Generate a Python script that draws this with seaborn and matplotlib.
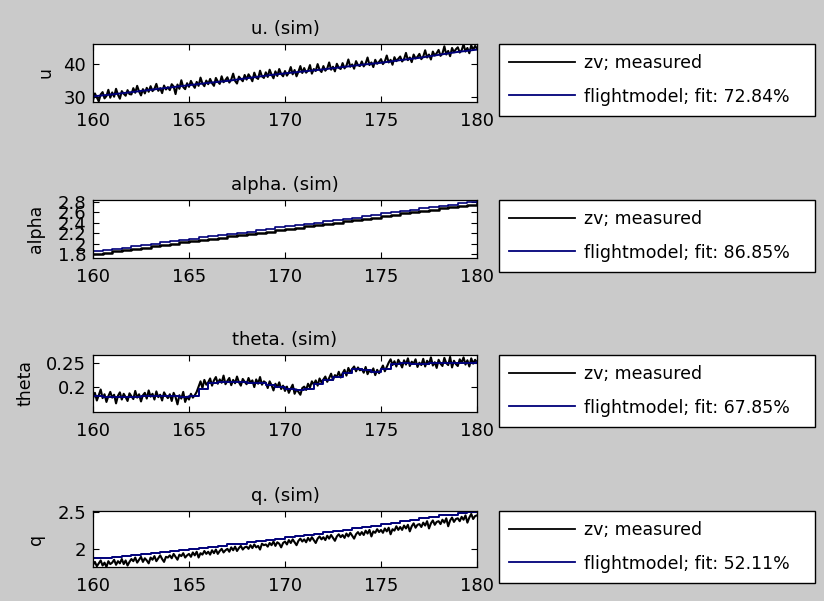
import numpy as np
import pandas as pd
import matplotlib
matplotlib.use("Agg")
import matplotlib.pyplot as plt
import seaborn as sns

# ---------------- data ----------------
t_meas = [round(160 + 0.1 * i, 1) for i in range(201)]
t_step = [160 + 0.5 * i for i in range(41)]
t_model_u = list(range(160, 181))

u_model = [30.3, 30.9, 31.6, 32.3, 33.0, 33.7, 34.4, 35.0, 35.8, 36.6, 37.3,
           37.9, 38.5, 39.2, 39.9, 40.5, 41.3, 42.0, 42.9, 43.8, 44.5]
u_meas = [
    29.1, 31.2, 30.0, 28.8, 30.9, 31.6, 29.7, 30.4, 32.3, 29.9,
    31.5, 30.2, 32.6, 30.8, 29.6, 31.9, 31.1, 30.5, 32.2, 31.0,
    30.9, 32.8, 31.4, 33.5, 31.8, 30.6, 32.5, 31.2, 32.9, 31.7,
    33.4, 31.9, 32.6, 34.1, 32.0, 32.8, 31.3, 33.6, 32.4, 33.1,
    32.2, 34.0, 33.3, 31.0, 33.9, 32.6, 35.2, 33.1, 32.5, 34.3,
    33.2, 35.0, 33.8, 32.9, 34.7, 33.5, 36.0, 34.2, 33.4, 35.1,
    34.0, 35.6, 34.3, 33.5, 35.9, 34.8, 34.1, 36.4, 34.6, 35.3,
    36.1, 34.5, 35.4, 37.2, 35.0, 34.2, 36.3, 35.6, 34.9, 36.8,
    35.4, 37.0, 36.1, 34.9, 37.5, 36.0, 35.6, 38.1, 36.4, 35.9,
    37.6, 36.2, 38.4, 36.9, 35.8, 37.9, 36.5, 38.6, 37.1, 36.4,
    38.0, 36.6, 37.5, 39.2, 37.0, 38.3, 36.4, 37.8, 39.5, 37.4,
    38.9, 37.5, 38.1, 39.8, 37.2, 38.6, 38.0, 40.1, 38.4, 37.7,
    39.5, 38.1, 38.8, 40.6, 38.4, 39.3, 37.9, 40.2, 39.0, 38.6,
    40.4, 38.8, 39.6, 41.5, 39.3, 40.0, 38.7, 41.0, 39.8, 39.5,
    40.9, 39.4, 40.3, 42.1, 39.8, 40.6, 39.2, 41.4, 40.2, 40.8,
    41.6, 40.1, 40.9, 42.7, 40.6, 41.4, 39.9, 42.2, 41.0, 41.7,
    42.4, 40.9, 41.6, 43.5, 41.3, 42.1, 40.7, 43.0, 41.8, 42.3,
    43.2, 41.6, 42.4, 44.3, 42.1, 43.0, 41.5, 43.9, 42.7, 43.4,
    44.4, 42.6, 43.3, 45.5, 43.0, 44.1, 42.5, 45.0, 43.7, 44.6,
    45.2, 43.6, 44.3, 46.1, 43.9, 45.0, 43.4, 45.8, 44.4, 45.6,
    44.8]

alpha_meas = [1.80, 1.82, 1.85, 1.87, 1.90, 1.92, 1.95, 1.97, 2.00, 2.02, 2.04,
              2.07, 2.09, 2.11, 2.14, 2.16, 2.18, 2.21, 2.23, 2.26, 2.28,
              2.30, 2.33, 2.35, 2.38, 2.40, 2.43, 2.45, 2.48, 2.50, 2.53,
              2.55, 2.58, 2.60, 2.63, 2.65, 2.68, 2.70, 2.73, 2.75, 2.78]
alpha_model = [1.85, 1.87, 1.90, 1.92, 1.95, 1.97, 2.00, 2.02, 2.05, 2.07, 2.09,
               2.12, 2.14, 2.16, 2.19, 2.21, 2.23, 2.26, 2.28, 2.31, 2.33,
               2.35, 2.38, 2.40, 2.43, 2.45, 2.48, 2.50, 2.53, 2.55, 2.58,
               2.60, 2.63, 2.65, 2.68, 2.70, 2.73, 2.75, 2.78, 2.80, 2.83]

theta_model = [0.181, 0.180, 0.179, 0.180, 0.180, 0.181, 0.182, 0.182, 0.181, 0.180,
               0.181, 0.196, 0.208, 0.211, 0.210, 0.210, 0.209, 0.208, 0.205, 0.200,
               0.196, 0.193, 0.197, 0.206, 0.214, 0.222, 0.230, 0.237, 0.236, 0.232,
               0.237, 0.249, 0.250, 0.249, 0.248, 0.250, 0.251, 0.250, 0.250, 0.251,
               0.253]
theta_meas = [
    0.176, 0.188, 0.172, 0.183, 0.195, 0.177, 0.185, 0.169, 0.181, 0.190,
    0.178, 0.184, 0.166, 0.182, 0.189, 0.174, 0.186, 0.179, 0.171, 0.187,
    0.181, 0.175, 0.192, 0.178, 0.185, 0.170, 0.183, 0.188, 0.176, 0.193,
    0.180, 0.186, 0.174, 0.191, 0.179, 0.184, 0.172, 0.189, 0.182, 0.177,
    0.185, 0.171, 0.188, 0.179, 0.164, 0.183, 0.176, 0.190, 0.169, 0.180,
    0.174, 0.186, 0.178, 0.183, 0.190, 0.201, 0.212, 0.198, 0.215, 0.205,
    0.210, 0.218, 0.203, 0.214, 0.221, 0.207, 0.216, 0.209, 0.224, 0.206,
    0.213, 0.219, 0.204, 0.215, 0.208, 0.222, 0.210, 0.203, 0.217, 0.211,
    0.206, 0.219, 0.209, 0.214, 0.200, 0.216, 0.207, 0.221, 0.205, 0.212,
    0.209, 0.198, 0.212, 0.204, 0.193, 0.207, 0.200, 0.210, 0.196, 0.203,
    0.192, 0.201, 0.188, 0.197, 0.205, 0.186, 0.195, 0.190, 0.184, 0.198,
    0.201, 0.194, 0.207, 0.199, 0.212, 0.205, 0.214, 0.203, 0.218, 0.210,
    0.216, 0.222, 0.211, 0.219, 0.228, 0.215, 0.225, 0.221, 0.232, 0.220,
    0.229, 0.236, 0.224, 0.240, 0.231, 0.238, 0.243, 0.233, 0.241, 0.235,
    0.238, 0.230, 0.242, 0.227, 0.235, 0.231, 0.239, 0.225, 0.236, 0.229,
    0.237, 0.245, 0.233, 0.242, 0.251, 0.258, 0.246, 0.254, 0.243, 0.257,
    0.250, 0.241, 0.256, 0.247, 0.260, 0.244, 0.253, 0.249, 0.258, 0.242,
    0.251, 0.246, 0.259, 0.243, 0.255, 0.248, 0.262, 0.245, 0.252, 0.240,
    0.257, 0.249, 0.244, 0.261, 0.250, 0.246, 0.263, 0.241, 0.255, 0.248,
    0.244, 0.258, 0.251, 0.262, 0.247, 0.256, 0.243, 0.260, 0.249, 0.257,
    0.252]

q_model = [1.87, 1.88, 1.89, 1.90, 1.91, 1.93, 1.94, 1.95, 1.97, 1.98, 2.00,
           2.01, 2.03, 2.04, 2.06, 2.07, 2.09, 2.11, 2.12, 2.14, 2.16,
           2.17, 2.19, 2.21, 2.23, 2.25, 2.26, 2.28, 2.30, 2.32, 2.34,
           2.36, 2.38, 2.40, 2.42, 2.44, 2.46, 2.47, 2.49, 2.50, 2.52]
q_meas = [
    1.78, 1.82, 1.76, 1.80, 1.84, 1.77, 1.81, 1.75, 1.83, 1.79,
    1.81, 1.85, 1.78, 1.83, 1.80, 1.86, 1.79, 1.84, 1.77, 1.82,
    1.86, 1.83, 1.88, 1.81, 1.85, 1.89, 1.82, 1.87, 1.84, 1.80,
    1.88, 1.85, 1.90, 1.83, 1.87, 1.91, 1.86, 1.82, 1.89, 1.88,
    1.91, 1.87, 1.93, 1.89, 1.85, 1.92, 1.90, 1.94, 1.88, 1.91,
    1.93, 1.89, 1.95, 1.91, 1.96, 1.88, 1.94, 1.92, 1.97, 1.93,
    1.96, 1.92, 1.98, 1.94, 1.99, 1.93, 1.97, 2.00, 1.95, 1.98,
    2.00, 1.96, 2.02, 1.98, 2.03, 1.97, 2.01, 2.04, 1.99, 2.02,
    2.03, 2.00, 2.05, 2.01, 2.06, 2.02, 2.04, 1.99, 2.07, 2.05,
    2.06, 2.03, 2.08, 2.05, 2.10, 2.04, 2.09, 2.07, 2.02, 2.08,
    2.10, 2.06, 2.12, 2.08, 2.13, 2.09, 2.05, 2.11, 2.14, 2.10,
    2.13, 2.09, 2.15, 2.11, 2.16, 2.12, 2.08, 2.14, 2.17, 2.13,
    2.16, 2.12, 2.18, 2.14, 2.19, 2.15, 2.11, 2.17, 2.20, 2.16,
    2.19, 2.15, 2.21, 2.17, 2.22, 2.18, 2.14, 2.20, 2.23, 2.19,
    2.23, 2.19, 2.25, 2.21, 2.26, 2.17, 2.24, 2.22, 2.27, 2.23,
    2.26, 2.22, 2.28, 2.24, 2.29, 2.20, 2.27, 2.25, 2.31, 2.26,
    2.30, 2.26, 2.32, 2.28, 2.33, 2.24, 2.31, 2.35, 2.29, 2.33,
    2.34, 2.30, 2.36, 2.32, 2.38, 2.28, 2.35, 2.39, 2.33, 2.37,
    2.38, 2.34, 2.40, 2.36, 2.42, 2.31, 2.39, 2.43, 2.37, 2.41,
    2.42, 2.38, 2.44, 2.40, 2.46, 2.36, 2.43, 2.48, 2.41, 2.45,
    2.46]

fits = ["72.84%", "86.85%", "67.85%", "52.11%"]
names = ["u", "alpha", "theta", "q"]
x_ticks = [160, 165, 170, 175, 180]
y_ticks = [[30, 40], [1.8, 2.0, 2.2, 2.4, 2.6, 2.8], [0.2, 0.25], [2.0, 2.5]]
y_ticklabels = [["30", "40"], ["1.8", "2", "2.2", "2.4", "2.6", "2.8"],
                ["0.2", "0.25"], ["2", "2.5"]]
y_lims = [(28.6, 46.2), (1.72, 2.84), (0.148, 0.267), (1.75, 2.52)]

# ---------------- figure ----------------
W, H = 824, 601
BG = "#cacaca"
NAVY = "#00007a"
fig = plt.figure(figsize=(W / 100, H / 100), dpi=100, facecolor=BG)
plt.rcParams["font.family"] = ["DejaVu Sans"]

boxes = [(44, 102), (200, 258), (355, 412), (511, 567)]
left, right = 93, 477
label_pads = [6, 9, 8, 9]

series = [
    (t_meas, u_meas, t_model_u, u_model, None),
    (t_step, alpha_meas, t_step, alpha_model, "steps-post"),
    (t_meas, theta_meas, t_step, theta_model, "steps-post"),
    (t_meas, q_meas, t_step, q_model, "steps-post"),
]

for i, (top, bot) in enumerate(boxes):
    ax = fig.add_axes([left / W, 1 - bot / H, (right - left) / W, (bot - top) / H])
    ax.set_facecolor("white")
    tm, ym, tmod, ymod, ds = series[i]
    df_m = pd.DataFrame({"t": tm, "y": ym})
    df_s = pd.DataFrame({"t": tmod, "y": ymod})
    lw_m = 1.8 if i == 1 else 1.5
    kw_m = {"drawstyle": "steps-post"} if i == 1 else {}
    sns.lineplot(data=df_m, x="t", y="y", ax=ax, color="black", lw=lw_m,
                 estimator=None, label="zv; measured", **kw_m)
    kw_s = {"drawstyle": ds} if ds else {}
    sns.lineplot(data=df_s, x="t", y="y", ax=ax, color=NAVY,
                 lw=1.2 if i == 1 else 1.4, estimator=None,
                 label="flightmodel; fit: " + fits[i], **kw_s)
    ax.set_xlim(160, 180)
    ax.set_ylim(*y_lims[i])
    ax.set_xticks(x_ticks)
    ax.set_xticklabels([str(v) for v in x_ticks])
    ax.set_yticks(y_ticks[i])
    ax.set_yticklabels(y_ticklabels[i])
    ax.tick_params(direction="in", top=True, right=True, length=4, width=0.8,
                   labelsize=13, colors="black")
    ax.tick_params(axis="x", pad=7)
    ax.tick_params(axis="y", pad=5)
    ax.set_xlabel("")
    ax.set_ylabel(names[i], fontsize=12.5, labelpad=label_pads[i])
    ax.set_title(names[i] + ". (sim)", fontsize=13, pad=7)
    for s in ax.spines.values():
        s.set_color("black")
        s.set_linewidth(0.9)
    ax.grid(False)
    handles, labels = ax.get_legend_handles_labels()
    leg = ax.legend(handles, labels, loc="upper left",
                    bbox_to_anchor=(499 / W, 1 - (top + 71) / H, 316 / W, 71 / H),
                    bbox_transform=fig.transFigure, mode="expand",
                    borderaxespad=0, frameon=True, fancybox=False,
                    edgecolor="black", framealpha=1, fontsize=12.5,
                    handlelength=3.8, handletextpad=0.5, labelspacing=0.87,
                    borderpad=0.6)
    leg.get_frame().set_linewidth(1.0)
    for lh in leg.get_lines():
        lh.set_linewidth(1.3)

fig.savefig("out.png", dpi=100, facecolor=BG)
